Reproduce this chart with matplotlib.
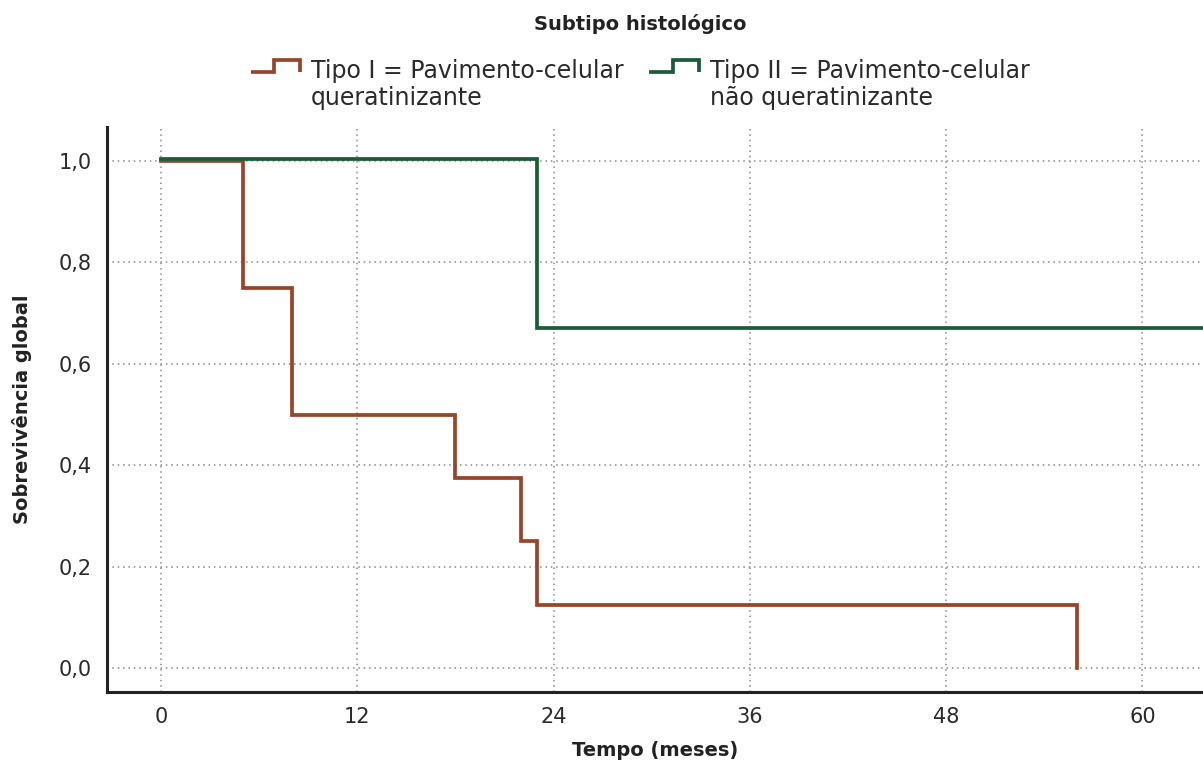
import matplotlib
matplotlib.use("Agg")
import matplotlib.pyplot as plt
import matplotlib.transforms as mtransforms
from matplotlib.lines import Line2D
from matplotlib.legend_handler import HandlerBase
from matplotlib.ticker import FuncFormatter

# ---- data ----
time_tipo1 = [0, 5, 8, 18, 22, 23, 56]
surv_tipo1 = [1.0, 0.75, 0.5, 0.375, 0.25, 0.125, 0.0]
time_tipo2 = [0, 23, 65]
surv_tipo2 = [1.0, 0.667, 0.667]
label_tipo1 = "Tipo I = Pavimento-celular\nqueratinizante"
label_tipo2 = "Tipo II = Pavimento-celular\nnão queratinizante"
xticks = [0, 12, 24, 36, 48, 60]
yticks = [0.0, 0.2, 0.4, 0.6, 0.8, 1.0]

BROWN = "#96462a"
GREEN = "#1d5c3a"
DARK = "#222222"

plt.rcParams["font.family"] = ["DejaVu Sans"]

fig = plt.figure(figsize=(12.03, 7.61), dpi=100)
ax = fig.add_axes([0.0889, 0.0907, 0.9111, 0.7423])

ax.plot(time_tipo1, surv_tipo1, drawstyle="steps-post", color=BROWN, lw=2.7,
        solid_joinstyle="miter", zorder=3, label=label_tipo1)
green_trans = mtransforms.offset_copy(ax.transData, fig=fig, x=0, y=2.0, units="dots")
ax.plot(time_tipo2, surv_tipo2, drawstyle="steps-post", color=GREEN, lw=2.7,
        solid_joinstyle="miter", zorder=4, transform=green_trans, label=label_tipo2)

ax.set_xlim(-3.3, 63.7)
ax.set_ylim(-0.047, 1.067)
ax.set_xticks(xticks)
ax.set_yticks(yticks)
ax.yaxis.set_major_formatter(FuncFormatter(lambda v, p: f"{v:.1f}".replace(".", ",")))
ax.tick_params(length=0, labelsize=15, labelcolor="#2a2a2a")
ax.tick_params(axis="y", pad=11)
ax.tick_params(axis="x", pad=11)

ax.grid(True, linestyle=(0, (1, 2.5)), color="#888888", lw=1.1)
ax.set_axisbelow(True)
for s in ["top", "right"]:
    ax.spines[s].set_visible(False)
for s in ["left", "bottom"]:
    ax.spines[s].set_color(DARK)
    ax.spines[s].set_linewidth(2.2)

ax.set_xlabel("Tempo (meses)", fontsize=14, fontweight="bold", color=DARK, labelpad=10)
ax.set_ylabel("Sobrevivência global", fontsize=14, fontweight="bold", color=DARK, labelpad=19)


class StepHandler(HandlerBase):
    def create_artists(self, legend, orig_handle, xdescent, ydescent, width,
                       height, fontsize, trans):
        mid = height / 2 - ydescent + 0.85 * fontsize
        low = mid - 0.25 * fontsize
        high = mid + 0.25 * fontsize
        x0 = -xdescent
        x1 = x0 + 0.48 * width
        x2 = x0 + width
        ln = Line2D([x0, x1, x1, x2, x2], [low, low, high, high, low],
                    color=orig_handle.get_color(), lw=2.7,
                    solid_joinstyle="miter", solid_capstyle="butt", transform=trans)
        return [ln]


handles, labels = ax.get_legend_handles_labels()
leg = fig.legend(handles, labels, loc="upper center", bbox_to_anchor=(0.532, 0.993),
                 ncol=2, frameon=False, fontsize=17, title="Subtipo histológico",
                 title_fontproperties={"size": 14, "weight": "bold"},
                 handlelength=2.1, handletextpad=0.45, columnspacing=1.1,
                 handler_map={Line2D: StepHandler()}, borderaxespad=0.0,
                 borderpad=0.35)
leg.get_title().set_color(DARK)
for t in leg.get_texts():
    t.set_color("#2a2a2a")
    t.set_linespacing(1.2)
leg._legend_box.sep = 18

fig.savefig("out.png", dpi=100)
